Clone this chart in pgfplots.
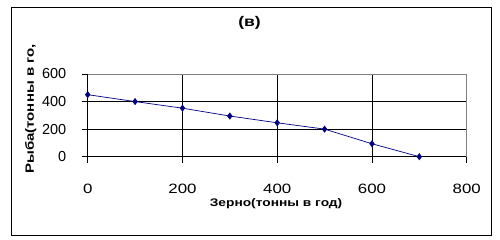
\documentclass[border=0pt]{standalone}
\usepackage{fontspec}
\setmainfont{Liberation Sans}
\newfontfamily\widefont{Liberation Sans}[FakeStretch=1.25]
\usepackage{pgfplots}
\pgfplotsset{compat=1.18}
\definecolor{navyline}{RGB}{0,0,128}
\definecolor{bordergray}{RGB}{128,128,128}
\begin{document}
\begin{tikzpicture}
\useasboundingbox (-87.7pt,-83.3pt) rectangle (412.3pt,156.7pt);
\draw[black, line width=0.8pt] (-76.7pt,-78.3pt) rectangle (403.3pt,149.7pt);
\begin{axis}[
  at={(0,0)}, anchor=south west, scale only axis,
  width=379pt, height=82.7pt,
  xmin=0, xmax=800, ymin=0, ymax=600,
  xtick={0,200,400,600,800}, ytick={0,200,400,600},
  axis lines=left, axis line style={-, line width=0.8pt, black},
  grid=major, major grid style={black, line width=0.8pt},
  tick align=outside, major tick length=6pt,
  tick style={black, line width=0.8pt},
  clip=false,
  /pgf/number format/assume math mode=true,
  xticklabel style={font=\widefont\fontsize{13.5}{13.5}\selectfont, anchor=center, inner sep=0pt, yshift=-26.5pt},
  yticklabel style={font=\fontsize{14.5}{14.5}\selectfont, anchor=east, inner sep=0pt, xshift=-15.2pt},
  title={(в)},
  title style={font=\widefont\bfseries\fontsize{14}{14}\selectfont, at={(axis description cs:0.427,1)}, anchor=center, yshift=45pt},
  xlabel={Зерно(тонны в год)},
  xlabel style={font=\widefont\bfseries\fontsize{11}{11}\selectfont, at={(axis description cs:0.497,0)}, anchor=center, yshift=-46.5pt},
  ylabel={Рыба(тонны в го,},
  ylabel style={font=\widefont\bfseries\fontsize{12}{12}\selectfont, at={(axis description cs:0,0.577)}, anchor=center, yshift=57pt},
]
\addplot[color=navyline, line width=0.7pt, mark=diamond*, mark size=3pt, mark options={fill=navyline, draw=navyline}]
  coordinates {(0,450) (100,400) (200,352) (300,295) (400,246) (500,200) (600,94) (700,0)};
\draw[bordergray, line width=0.8pt] (rel axis cs:0,1) -- (rel axis cs:1,1) -- (rel axis cs:1,0);
\end{axis}
\end{tikzpicture}
\end{document}
